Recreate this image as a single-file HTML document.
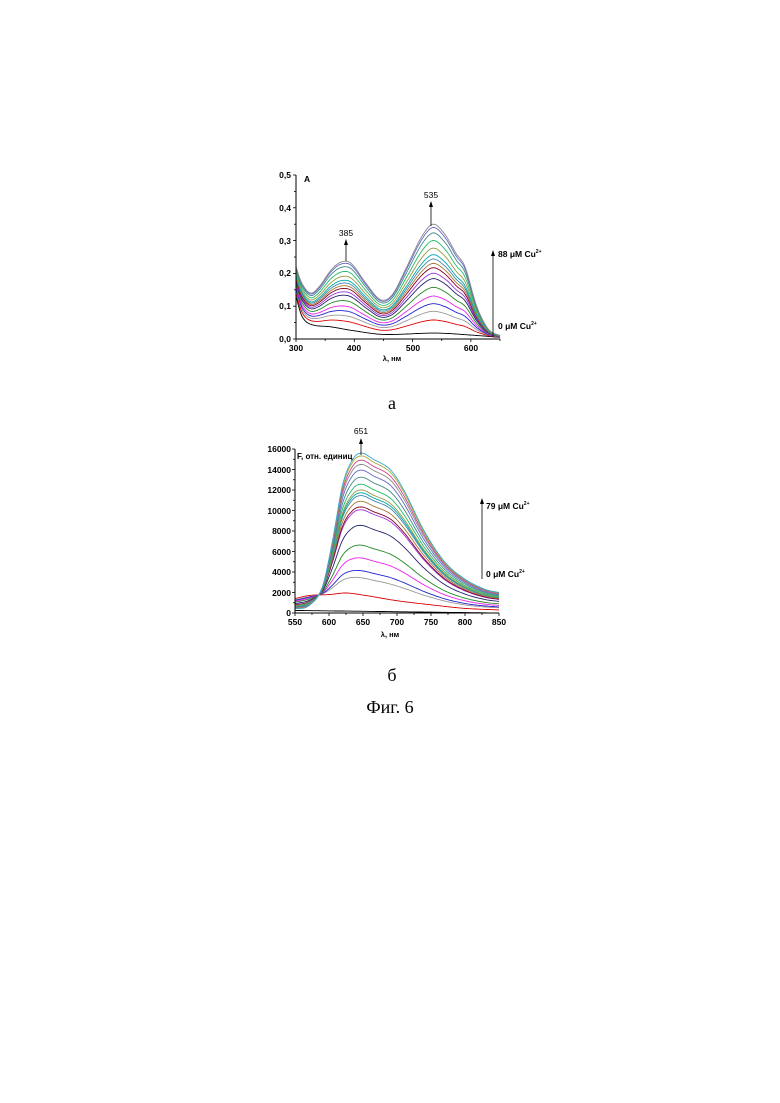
<!DOCTYPE html>
<html><head><meta charset="utf-8"><style>
html,body{margin:0;padding:0;background:#fff;width:780px;height:1103px;overflow:hidden}
svg{position:absolute;left:0;top:0}
text{font-family:"Liberation Sans",Arial,sans-serif}
</style></head><body>
<svg id="s" width="780" height="1103" viewBox="0 0 780 1103" xmlns="http://www.w3.org/2000/svg">
<g id="ca"></g><g id="cb"></g>
<g font-size="8.5" fill="#000" font-weight="bold">
<!-- chart a axes -->
<path d="M296,175 V339 H500" fill="none" stroke="#000" stroke-width="1"/>
<g id="ta" stroke="#000" stroke-width="0.8"></g>
<g text-anchor="end">
<text x="291" y="342">0,0</text><text x="291" y="309">0,1</text><text x="291" y="276">0,2</text>
<text x="291" y="244">0,3</text><text x="291" y="211">0,4</text><text x="291" y="178">0,5</text>
</g>
<g text-anchor="middle">
<text x="296" y="351">300</text><text x="354" y="351">400</text><text x="413" y="351">500</text><text x="471" y="351">600</text>
<text x="392" y="361" font-size="7.5">λ, нм</text>
</g>
<text x="304" y="182">A</text>
<text x="346" y="236" text-anchor="middle" font-weight="normal">385</text>
<text x="431" y="198" text-anchor="middle" font-weight="normal">535</text>
<line x1="346" y1="261" x2="346" y2="241" stroke="#000" stroke-width="0.8"/><path d="M344,245 L346,239 L348,245Z"/>
<line x1="431" y1="226" x2="431" y2="203" stroke="#000" stroke-width="0.8"/><path d="M429,207 L431,201 L433,207Z"/>
<line x1="493" y1="337" x2="493" y2="252" stroke="#000" stroke-width="0.8"/><path d="M491,256 L493,250 L495,256Z"/>
<text x="498" y="257">88 μM Cu<tspan font-size="5" dy="-4">2+</tspan></text>
<text x="498" y="329">0 μM Cu<tspan font-size="5" dy="-4">2+</tspan></text>
<!-- chart b axes -->
<path d="M295,449 V613 H499" fill="none" stroke="#000" stroke-width="1"/>
<g id="tb" stroke="#000" stroke-width="0.8"></g>
<g text-anchor="end">
<text x="291" y="616">0</text><text x="291" y="596">2000</text><text x="291" y="575">4000</text><text x="291" y="555">6000</text>
<text x="291" y="534">8000</text><text x="291" y="514">10000</text><text x="291" y="493">12000</text><text x="291" y="473">14000</text><text x="291" y="452">16000</text>
</g>
<g text-anchor="middle">
<text x="295" y="625">550</text><text x="329" y="625">600</text><text x="363" y="625">650</text><text x="397" y="625">700</text>
<text x="431" y="625">750</text><text x="465" y="625">800</text><text x="499" y="625">850</text>
<text x="390" y="637" font-size="7.5">λ, нм</text>
</g>
<text x="297" y="459" font-size="8">F, отн. единиц</text>
<text x="361" y="434" text-anchor="middle" font-weight="normal">651</text>
<line x1="361" y1="455" x2="361" y2="440" stroke="#000" stroke-width="0.8"/><path d="M359,444 L361,438 L363,444Z"/>
<line x1="482" y1="579" x2="482" y2="500" stroke="#000" stroke-width="0.8"/><path d="M480,504 L482,498 L484,504Z"/>
<text x="486" y="509">79 μM Cu<tspan font-size="5" dy="-4">2+</tspan></text>
<text x="486" y="577">0 μM Cu<tspan font-size="5" dy="-4">2+</tspan></text>
</g>
<g font-size="18" text-anchor="middle" fill="#000">
<text x="392" y="409" style="font-family:'Liberation Serif',serif">а</text>
<text x="392" y="681" style="font-family:'Liberation Serif',serif">б</text>
<text x="390" y="713" style="font-family:'Liberation Serif',serif">Фиг. 6</text>
</g>
</svg>
<script>
function interp(p,x){var n=p.length;for(var i=0;i<n-1;i++){if(x<=p[i+1][0]){var p0=p[Math.max(i-1,0)],p1=p[i],p2=p[i+1],p3=p[Math.min(i+2,n-1)];var h=p2[0]-p1[0],t=(x-p1[0])/h;
var m1=(p2[1]-p0[1])/(p2[0]-p0[0])*h,m2=(p3[1]-p1[1])/(p3[0]-p1[0])*h;var t2=t*t,t3=t2*t;
return (2*t3-3*t2+1)*p1[1]+(t3-2*t2+t)*m1+(-2*t3+3*t2)*p2[1]+(t3-t2)*m2;}}return p[n-1][1];}
var cols=["#d00","#999","#22c","#e2e","#282","#226","#93d","#802","#a73","#48a","#0aa","#994","#2b6","#488","#66c","#888","#c48","#aa3","#3ac"];
var NS="http://www.w3.org/2000/svg";
function el(g,n,a){var e=document.createElementNS(NS,n);for(var k in a)e.setAttribute(k,a[k]);g.appendChild(e);}
function path(g,d,c){el(g,"path",{d:d,fill:"none",stroke:c,"stroke-width":"0.9"});}
var ta=document.getElementById("ta");
for(var i=0;i<=10;i++){var y=339-i*16.4;el(ta,"line",{x1:296,x2:i%2?294:293,y1:y,y2:y});}
for(var l=300;l<=650;l+=50){var x=296+(l-300)*0.5829;el(ta,"line",{x1:x,x2:x,y1:339,y2:l%100?341:342});}
var tb=document.getElementById("tb");
for(var i=0;i<=16;i++){var y=613-i*10.25;el(tb,"line",{x1:295,x2:i%2?293:292,y1:y,y2:y});}
for(var l=550;l<=850;l+=25){var x=295+(l-550)*0.68;el(tb,"line",{x1:x,x2:x,y1:613,y2:l%50?615:616});}
// chart a
var topA=[[300,.22],[310,.17],[325,.14],[340,.16],[360,.21],[378,.235],[395,.23],[420,.17],[445,.12],[465,.135],[490,.22],[515,.31],[535,.35],[555,.32],[575,.26],[590,.22],[610,.10],[630,.03],[650,.01]];
var botA=[[300,.13],[310,.07],[325,.045],[360,.037],[400,.025],[450,.014],[540,.018],[600,.012],[650,.005]];
var ka=[0,.12,.2,.27,.34,.42,.5,.55,.6,.64,.68,.72,.78,.85,.92,.97,1];
var ga=document.getElementById("ca");
ka.forEach(function(k,i){var d="";for(var l=300;l<=650;l+=2){var v=interp(botA,l)+k*(interp(topA,l)-interp(botA,l));var x=296+(l-300)*0.5829,y=339-v*328;d+=(l==300?"M":"L")+x.toFixed(1)+","+y.toFixed(1);}path(ga,d,i==0?"#000":cols[(i-1)%cols.length]);});
// chart b
var topB=[[550,400],[570,700],[590,2500],[605,7000],[620,12500],[635,15000],[648,15600],[665,15000],[690,14000],[710,12000],[740,8000],[770,5000],[800,3300],[830,2300],[850,2000]];
var redB=[[550,1400],[570,1700],[600,1800],[625,1950],[650,1750],[700,1200],[750,800],[800,450],[850,300]];
var kb=[0,.12,.17,.26,.35,.49,.6,.62,.66,.7,.72,.74,.78,.83,.88,.92,.95,.98,1];
var gb=document.getElementById("cb");
var d0="";for(var l=550;l<=850;l+=5){var v=250-250*(l-550)/300;d0+=(l==550?"M":"L")+(295+(l-550)*0.68).toFixed(1)+","+(613-v*0.01025).toFixed(1);}path(gb,d0,"#000");
kb.forEach(function(k,i){var d="";for(var l=550;l<=850;l+=2){var v=interp(redB,l)+k*(interp(topB,l)-interp(redB,l));var x=295+(l-550)*0.68,y=613-v*0.01025;d+=(l==550?"M":"L")+x.toFixed(1)+","+y.toFixed(1);}path(gb,d,cols[i%cols.length]);});
</script>
</body></html>
